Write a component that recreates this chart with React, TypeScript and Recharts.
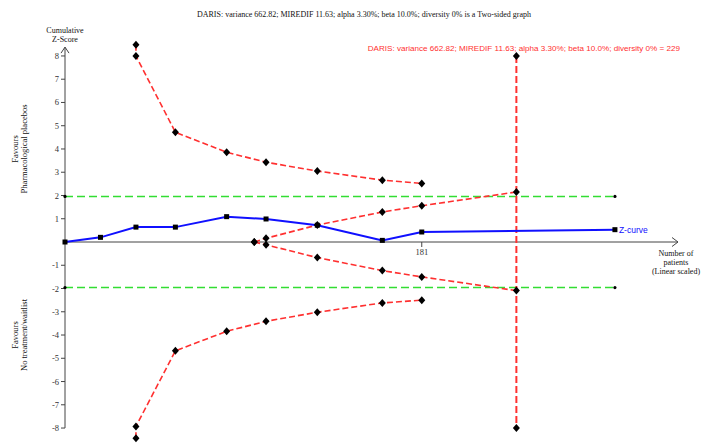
import React from 'react';
import { ComposedChart, Line, XAxis, YAxis, ReferenceLine, ReferenceDot } from 'recharts';

const zCurveN = [0, 18, 36, 56, 82, 102, 128, 161, 181, 279];
const zCurveZ = [0, 0.2, 0.64, 0.64, 1.09, 0.99, 0.72, 0.07, 0.43, 0.53];
const boundN = [36, 36, 56, 82, 102, 128, 161, 181];
const upperBoundZ = [8.48, 8.0, 4.72, 3.86, 3.43, 3.05, 2.66, 2.52];
const lowerBoundZ = [-8.44, -7.93, -4.68, -3.84, -3.41, -3.02, -2.62, -2.5];
const futilityN = [96, 102, 128, 161, 181, 229];
const futilityUpperZ = [0, 0.16, 0.73, 1.29, 1.56, 2.15];
const futilityLowerZ = [0, -0.12, -0.67, -1.23, -1.5, -2.09];
const risN = [229, 229];
const risZ = [8, -8];
const conventionalN = [0, 279];
const conventionalUpperZ = [1.96, 1.96];
const conventionalLowerZ = [-1.96, -1.96];
const yTicks = [-8, -7, -6, -5, -4, -3, -2, -1, 1, 2, 3, 4, 5, 6, 7, 8];
const xTickValues = [181];
const requiredSize = 229;
const titleText = 'DARIS: variance 662.82; MIREDIF 11.63; alpha 3.30%; beta 10.0%; diversity 0% is a Two-sided graph';
const risText = 'DARIS: variance 662.82; MIREDIF 11.63; alpha 3.30%; beta 10.0%; diversity 0% = ' + requiredSize;

const toRows = (ns: number[], zs: number[]) => ns.map((n, i) => ({ n, z: zs[i] }));

const zCurve = toRows(zCurveN, zCurveZ);
const upperBound = toRows(boundN, upperBoundZ);
const lowerBound = toRows(boundN, lowerBoundZ);
const futUpper = toRows(futilityN, futilityUpperZ);
const futLower = toRows(futilityN, futilityLowerZ);
const ris = toRows(risN, risZ);
const convUpper = toRows(conventionalN, conventionalUpperZ);
const convLower = toRows(conventionalN, conventionalLowerZ);

const SERIF = '"Liberation Serif", "Times New Roman", serif';
const SANS = '"Liberation Sans", Arial, sans-serif';
const RED = '#ff3030';
const GREEN = '#33dd33';
const BLUE = '#1010ff';
const AXIS = '#444';

const Diamond = (p: any) => {
  const { cx, cy, index } = p;
  if (cx == null || cy == null) return <g key={index} />;
  return <path key={index} d={`M${cx},${cy - 4} L${cx + 3.5},${cy} L${cx},${cy + 4} L${cx - 3.5},${cy} Z`} fill="#000" />;
};
const Square = (p: any) => {
  const { cx, cy, index } = p;
  if (cx == null || cy == null) return <g key={index} />;
  return <rect key={index} x={cx - 2.5} y={cy - 2.5} width={5} height={5} fill="#000" />;
};
const SmallDot = (p: any) => {
  const { cx, cy, index } = p;
  if (cx == null || cy == null) return <g key={index} />;
  return <circle key={index} cx={cx} cy={cy} r={1.6} fill="#000" />;
};

export default function App() {
  return (
    <div style={{ position: 'absolute', left: 0, top: 0, width: 716, height: 444, background: '#fff' }}>
      <ComposedChart width={716} height={444} margin={{ top: 42, right: 38, bottom: 2, left: 0 }}>
        <XAxis dataKey="n" type="number" domain={[0, 311]} hide allowDuplicatedCategory={false} />
        <YAxis
          type="number"
          domain={[-8.6, 8.6]}
          ticks={yTicks}
          width={65}
          axisLine={false}
          tickLine={{ stroke: AXIS }}
          tickSize={4}
          tickMargin={2}
          tick={{ fontFamily: SERIF, fontSize: 8.5, fill: '#333' }}
          interval={0}
        />
        <ReferenceLine segment={[{ x: 0, y: -8 }, { x: 0, y: 8.38 }]} stroke={AXIS} strokeWidth={1} ifOverflow="visible" />
        <ReferenceLine segment={[{ x: 0, y: 0 }, { x: 311, y: 0 }]} stroke={AXIS} strokeWidth={1} ifOverflow="visible" />
        <ReferenceDot
          x={0}
          y={8.38}
          ifOverflow="visible"
          shape={(p: any) => (
            <path d={`M${p.cx - 4},${p.cy + 6} L${p.cx},${p.cy} L${p.cx + 4},${p.cy + 6}`} fill="none" stroke={AXIS} strokeWidth={1} />
          )}
        />
        <ReferenceDot
          x={311}
          y={0}
          ifOverflow="visible"
          shape={(p: any) => (
            <path d={`M${p.cx - 6},${p.cy - 4.5} L${p.cx},${p.cy} L${p.cx - 6},${p.cy + 4.5}`} fill="none" stroke={AXIS} strokeWidth={1} />
          )}
        />
        {xTickValues.map((t) => (
          <ReferenceDot
            key={'xt' + t}
            x={t}
            y={0}
            ifOverflow="visible"
            shape={(p: any) => (
              <g>
                <line x1={p.cx} y1={p.cy} x2={p.cx} y2={p.cy + 5} stroke={AXIS} />
                <text x={p.cx} y={p.cy + 13} textAnchor="middle" fontFamily={SERIF} fontSize={8.5} fill="#333">
                  {t}
                </text>
              </g>
            )}
          />
        ))}
        <Line data={convUpper} dataKey="z" stroke={GREEN} strokeWidth={1.5} strokeDasharray="8 4" dot={SmallDot} isAnimationActive={false} />
        <Line data={convLower} dataKey="z" stroke={GREEN} strokeWidth={1.5} strokeDasharray="8 4" dot={SmallDot} isAnimationActive={false} />
        <Line data={upperBound} dataKey="z" stroke={RED} strokeWidth={1.6} strokeDasharray="6 3" dot={Diamond} isAnimationActive={false} />
        <Line data={lowerBound} dataKey="z" stroke={RED} strokeWidth={1.6} strokeDasharray="6 3" dot={Diamond} isAnimationActive={false} />
        <Line data={futUpper} dataKey="z" stroke={RED} strokeWidth={1.6} strokeDasharray="6 3" dot={Diamond} isAnimationActive={false} />
        <Line data={futLower} dataKey="z" stroke={RED} strokeWidth={1.6} strokeDasharray="6 3" dot={Diamond} isAnimationActive={false} />
        <Line data={ris} dataKey="z" stroke={RED} strokeWidth={2} strokeDasharray="7 3" dot={Diamond} isAnimationActive={false} />
        <Line data={zCurve} dataKey="z" stroke={BLUE} strokeWidth={2} dot={Square} isAnimationActive={false} />
        <ReferenceDot
          x={zCurveN[zCurveN.length - 1]}
          y={zCurveZ[zCurveZ.length - 1]}
          ifOverflow="visible"
          shape={(p: any) => (
            <text x={p.cx + 4} y={p.cy + 3} fontFamily={SANS} fontSize={8.5} fill={BLUE}>
              Z-curve
            </text>
          )}
        />
      </ComposedChart>
      <svg width={716} height={444} style={{ position: 'absolute', left: 0, top: 0, pointerEvents: 'none' }}>
        <text x={364} y={17} textAnchor="middle" fontFamily={SERIF} fontSize={8} fill="#111">
          {titleText}
        </text>
        <text x={680} y={51} textAnchor="end" fontFamily={SANS} fontSize={8.1} fill={RED}>
          {risText}
        </text>
        <text x={65} y={33} textAnchor="middle" fontFamily={SERIF} fontSize={8} fill="#111">Cumulative</text>
        <text x={65} y={42} textAnchor="middle" fontFamily={SERIF} fontSize={8} fill="#111">Z-Score</text>
        <text x={676} y={256} textAnchor="middle" fontFamily={SERIF} fontSize={8} fill="#111">Number of</text>
        <text x={676} y={265} textAnchor="middle" fontFamily={SERIF} fontSize={8} fill="#111">patients</text>
        <text x={676} y={274} textAnchor="middle" fontFamily={SERIF} fontSize={8} fill="#111">(Linear scaled)</text>
        <g transform="translate(18,149) rotate(-90)">
          <text x={0} y={0} textAnchor="middle" fontFamily={SERIF} fontSize={8.5} fill="#111">Favours</text>
          <text x={0} y={9} textAnchor="middle" fontFamily={SERIF} fontSize={8.5} fill="#111">Pharmacological placebos</text>
        </g>
        <g transform="translate(18,335) rotate(-90)">
          <text x={0} y={0} textAnchor="middle" fontFamily={SERIF} fontSize={8.5} fill="#111">Favours</text>
          <text x={0} y={9} textAnchor="middle" fontFamily={SERIF} fontSize={8.5} fill="#111">No treatment/waitlist</text>
        </g>
      </svg>
    </div>
  );
}
